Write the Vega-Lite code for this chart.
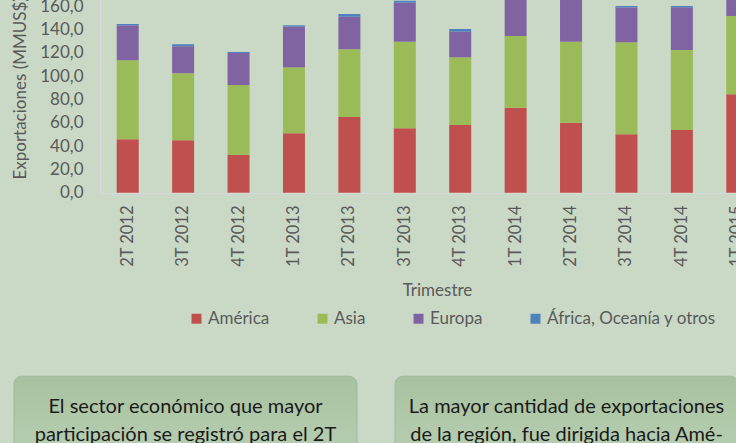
{
  "$schema": "https://vega.github.io/schema/vega-lite/v6.json",
  "autosize": {"type": "none"},
  "width": 636,
  "height": 193,
  "padding": {"left": 100, "top": 0, "right": 0, "bottom": 250},
  "background": "#CAD9C6",
  "config": {"view": {"stroke": null}, "font": "Lato"},
  "datasets": {
    "exportaciones": [
      {"trimestre": "2T 2012", "region": "América", "valor": 45.8},
      {"trimestre": "2T 2012", "region": "Asia", "valor": 67.8},
      {"trimestre": "2T 2012", "region": "Europa", "valor": 30.1},
      {"trimestre": "2T 2012", "region": "África, Oceanía y otros", "valor": 1.1},
      {"trimestre": "3T 2012", "region": "América", "valor": 45.0},
      {"trimestre": "3T 2012", "region": "Asia", "valor": 57.5},
      {"trimestre": "3T 2012", "region": "Europa", "valor": 23.2},
      {"trimestre": "3T 2012", "region": "África, Oceanía y otros", "valor": 1.7},
      {"trimestre": "4T 2012", "region": "América", "valor": 32.4},
      {"trimestre": "4T 2012", "region": "Asia", "valor": 60.0},
      {"trimestre": "4T 2012", "region": "Europa", "valor": 27.5},
      {"trimestre": "4T 2012", "region": "África, Oceanía y otros", "valor": 0.9},
      {"trimestre": "1T 2013", "region": "América", "valor": 51.0},
      {"trimestre": "1T 2013", "region": "Asia", "valor": 56.6},
      {"trimestre": "1T 2013", "region": "Europa", "valor": 34.9},
      {"trimestre": "1T 2013", "region": "África, Oceanía y otros", "valor": 1.2},
      {"trimestre": "2T 2013", "region": "América", "valor": 65.0},
      {"trimestre": "2T 2013", "region": "Asia", "valor": 58.1},
      {"trimestre": "2T 2013", "region": "Europa", "valor": 28.0},
      {"trimestre": "2T 2013", "region": "África, Oceanía y otros", "valor": 2.3},
      {"trimestre": "3T 2013", "region": "América", "valor": 55.3},
      {"trimestre": "3T 2013", "region": "Asia", "valor": 74.3},
      {"trimestre": "3T 2013", "region": "Europa", "valor": 33.5},
      {"trimestre": "3T 2013", "region": "África, Oceanía y otros", "valor": 1.7},
      {"trimestre": "4T 2013", "region": "América", "valor": 58.1},
      {"trimestre": "4T 2013", "region": "Asia", "valor": 58.1},
      {"trimestre": "4T 2013", "region": "Europa", "valor": 22.0},
      {"trimestre": "4T 2013", "region": "África, Oceanía y otros", "valor": 2.3},
      {"trimestre": "1T 2014", "region": "América", "valor": 73.0},
      {"trimestre": "1T 2014", "region": "Asia", "valor": 61.5},
      {"trimestre": "1T 2014", "region": "Europa", "valor": 33.0},
      {"trimestre": "1T 2014", "region": "África, Oceanía y otros", "valor": 1.5},
      {"trimestre": "2T 2014", "region": "América", "valor": 60.1},
      {"trimestre": "2T 2014", "region": "Asia", "valor": 69.5},
      {"trimestre": "2T 2014", "region": "Europa", "valor": 38.0},
      {"trimestre": "2T 2014", "region": "África, Oceanía y otros", "valor": 1.5},
      {"trimestre": "3T 2014", "region": "América", "valor": 50.1},
      {"trimestre": "3T 2014", "region": "Asia", "valor": 79.0},
      {"trimestre": "3T 2014", "region": "Europa", "valor": 30.0},
      {"trimestre": "3T 2014", "region": "África, Oceanía y otros", "valor": 1.2},
      {"trimestre": "4T 2014", "region": "América", "valor": 53.8},
      {"trimestre": "4T 2014", "region": "Asia", "valor": 68.7},
      {"trimestre": "4T 2014", "region": "Europa", "valor": 36.6},
      {"trimestre": "4T 2014", "region": "África, Oceanía y otros", "valor": 1.2},
      {"trimestre": "1T 2015", "region": "América", "valor": 84.5},
      {"trimestre": "1T 2015", "region": "Asia", "valor": 67.2},
      {"trimestre": "1T 2015", "region": "Europa", "valor": 25.0},
      {"trimestre": "1T 2015", "region": "África, Oceanía y otros", "valor": 1.5}
    ],
    "notas": [
      {"panel": "A", "texto": "El sector económico que mayor\nparticipación se registró para el 2T"},
      {"panel": "B", "texto": "La mayor cantidad de exportaciones\nde la región, fue dirigida hacia Amé-"}
    ]
  },
  "layer": [
    {
      "data": {"name": "exportaciones"},
      "mark": {"type": "bar"},
      "encoding": {
        "x": {
          "field": "trimestre",
          "type": "ordinal",
          "sort": ["2T 2012", "3T 2012", "4T 2012", "1T 2013", "2T 2013", "3T 2013", "4T 2013", "1T 2014", "2T 2014", "3T 2014", "4T 2014", "1T 2015"],
          "scale": {"range": [0, 665], "paddingInner": 0.603, "paddingOuter": 0.3015},
          "axis": {
            "title": "Trimestre",
            "labelAngle": -90,
            "labelAlign": "right",
            "labelBaseline": "middle",
            "ticks": false,
            "tickSize": 0,
            "labelPadding": 12,
            "domainColor": "#D9D9D9",
            "labelColor": "#595959",
            "labelFontSize": 16.5,
            "titleColor": "#595959",
            "titleFontSize": 17,
            "titleFontWeight": "normal",
            "titlePadding": 16,
            "titleX": 337
          }
        },
        "y": {
          "field": "valor",
          "type": "quantitative",
          "stack": "zero",
          "scale": {"domain": [0, 180], "range": [192.7, -17], "nice": false},
          "axis": {
            "title": "Exportaciones (MMUS$)",
            "values": [0, 20, 40, 60, 80, 100, 120, 140, 160, 180],
            "labelExpr": "replace(format(datum.value, '.1f'), '.', ',')",
            "ticks": false,
            "tickSize": 0,
            "grid": false,
            "domainColor": "#D9D9D9",
            "labelColor": "#595959",
            "labelFontSize": 17,
            "labelPadding": 17,
            "titleColor": "#595959",
            "titleFontSize": 17,
            "titleFontWeight": "normal",
            "titlePadding": 10
          }
        },
        "order": {"field": "region", "type": "nominal", "sort": "ascending"},
        "color": {
          "field": "region",
          "type": "nominal",
          "sort": ["América", "Asia", "Europa", "África, Oceanía y otros"],
          "scale": {
            "domain": ["América", "Asia", "Europa", "África, Oceanía y otros"],
            "range": ["#C0504D", "#9BBB59", "#8064A2", "#4F81BD"]
          },
          "legend": {
            "title": null,
            "orient": "none",
            "legendX": 88,
            "legendY": 310,
            "direction": "horizontal",
            "symbolType": "square",
            "symbolSize": 100,
            "symbolStrokeWidth": 0,
            "labelFontSize": 17,
            "labelColor": "#595959",
            "columnPadding": 44,
            "labelOffset": 3,
            "labelLimit": 300
          }
        }
      }
    },
    {
      "data": {"name": "notas"},
      "layer": [
        {
          "mark": {
            "type": "bar",
            "cornerRadius": 8,
            "fill": {
              "gradient": "linear",
              "x1": 0, "y1": 0, "x2": 0, "y2": 1,
              "stops": [
                {"offset": 0, "color": "#A7C2A0"},
                {"offset": 1, "color": "#BDD3B7"}
              ]
            },
            "stroke": "#A0B89A",
            "strokeWidth": 1
          },
          "encoding": {
            "x": {
              "field": "panel",
              "type": "nominal",
              "scale": {"type": "band", "domain": ["A", "B"], "range": [-86, 638], "paddingInner": 0.1, "paddingOuter": 0},
              "axis": null
            },
            "y": {"datum": -157.5, "type": "quantitative", "scale": {"domain": [0, 180], "range": [192.7, -17], "nice": false}, "axis": null},
            "y2": {"datum": -250}
          }
        },
        {
          "mark": {
            "type": "text",
            "align": "center",
            "baseline": "alphabetic",
            "lineBreak": "\n",
            "lineHeight": 28,
            "fontSize": 20,
            "color": "#1A1A1A"
          },
          "encoding": {
            "x": {
              "field": "panel",
              "type": "nominal",
              "bandPosition": 0.5,
              "scale": {"type": "band", "domain": ["A", "B"], "range": [-86, 638], "paddingInner": 0.1, "paddingOuter": 0},
              "axis": null
            },
            "y": {"datum": -189, "type": "quantitative", "scale": {"domain": [0, 180], "range": [192.7, -17], "nice": false}, "axis": null},
            "text": {"field": "texto"}
          }
        }
      ]
    }
  ],
  "resolve": {"scale": {"x": "independent", "y": "independent"}}
}
